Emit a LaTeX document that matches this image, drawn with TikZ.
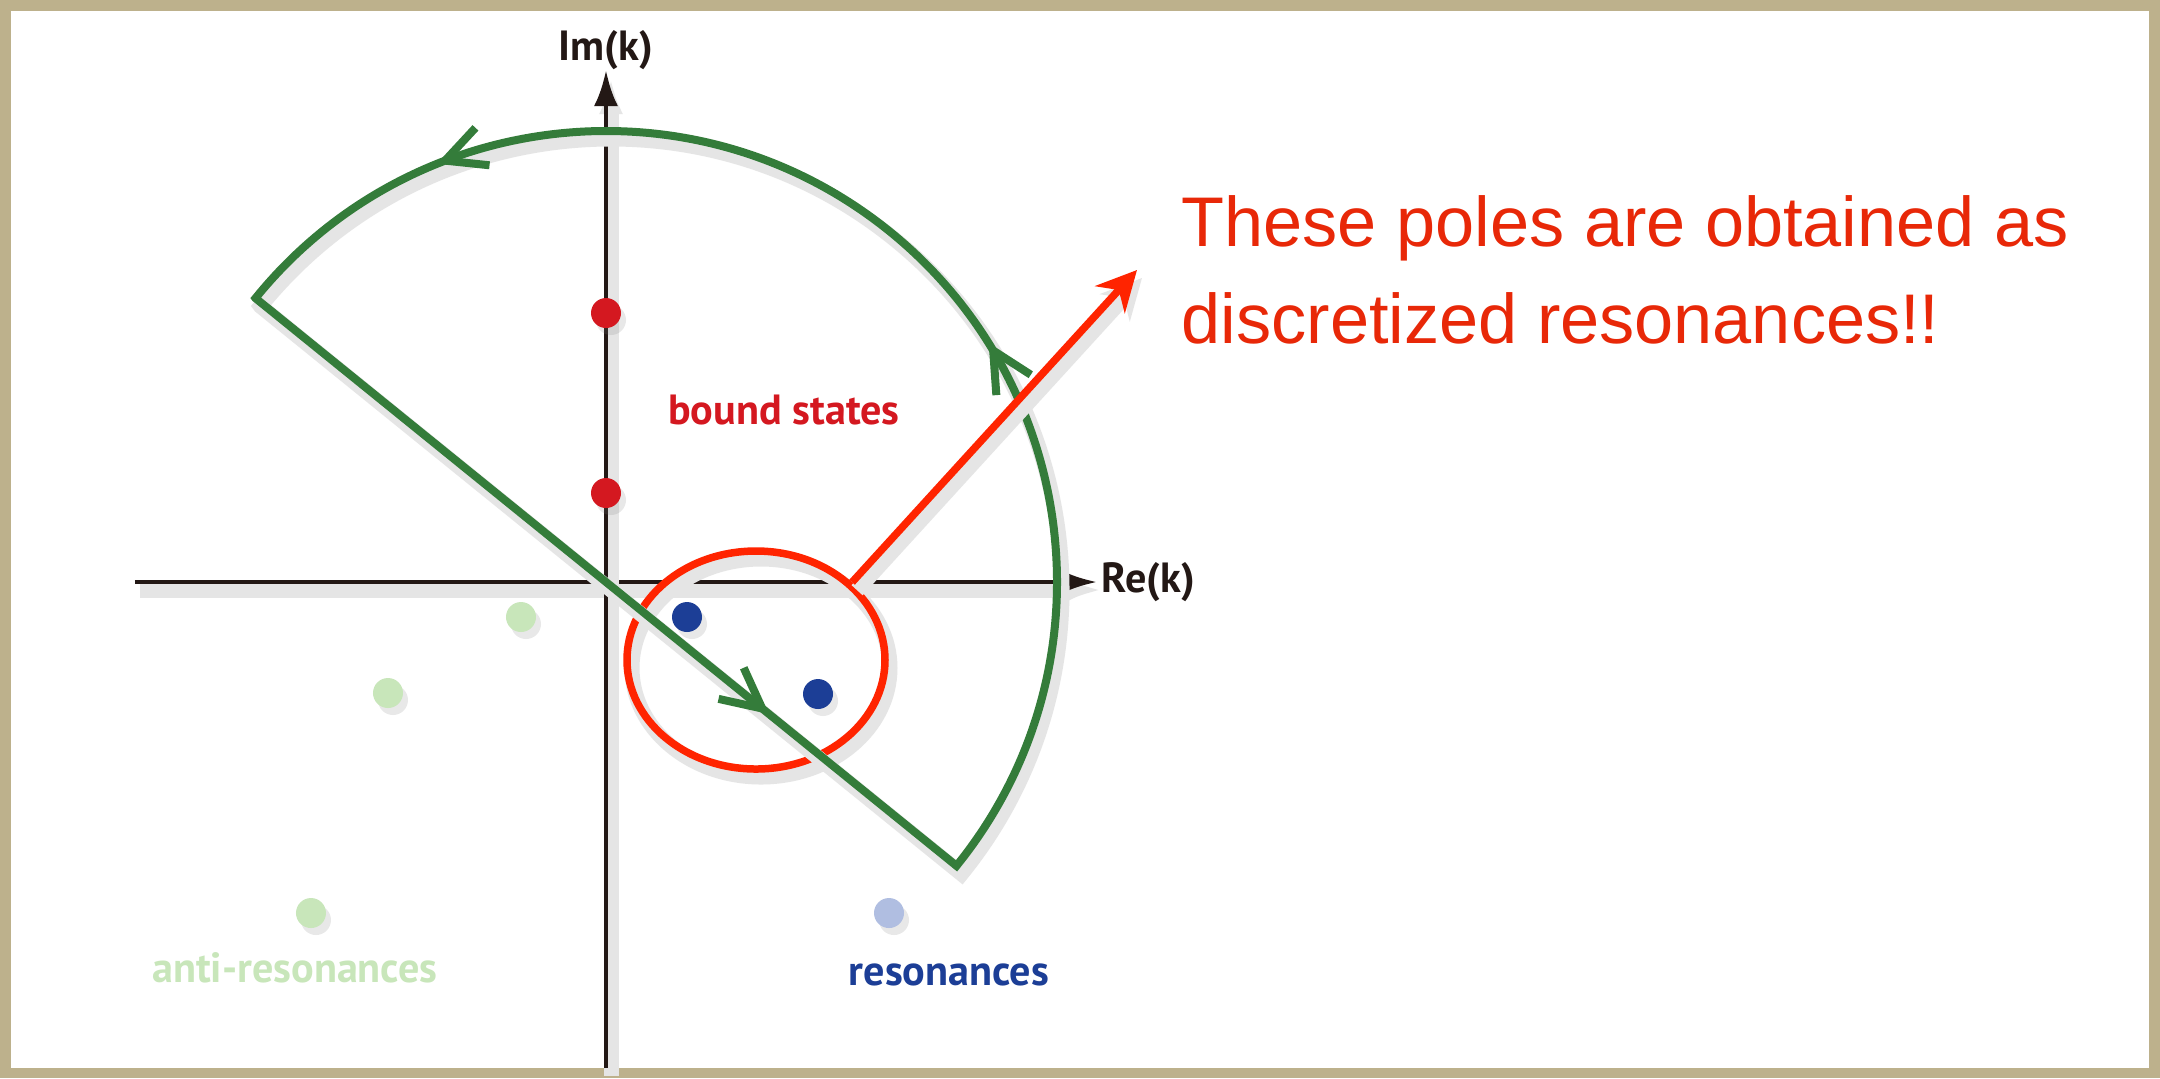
\documentclass[tikz,border=0pt]{standalone}
\usepackage{fontspec}
\setmainfont{Liberation Sans}
\newfontfamily\tagfont{PT Sans}
\usetikzlibrary{arrows.meta,positioning,decorations.markings,shapes.geometric,shadows}

\definecolor{frame}{RGB}{189,177,140}
\definecolor{axisc}{RGB}{35,24,21}
\definecolor{contgreen}{RGB}{52,124,58}
\definecolor{circred}{RGB}{255,36,0}
\definecolor{notered}{RGB}{232,40,8}
\definecolor{boundred}{RGB}{212,24,32}
\definecolor{resblue}{RGB}{28,62,150}
\definecolor{resfaint}{RGB}{176,190,225}
\definecolor{antigreen}{RGB}{200,230,186}

% thick chevron on the contour
\newcommand{\chev}{\draw[contgreen, line width=0.08cm]
  (-0.38,0.2) -- (0.02,0) -- (-0.38,-0.2);}

\tikzset{
  shade/.style={preaction={draw=black!10, line width=0.15cm,
      transform canvas={shift={(0.05,-0.08)}}}},
  kaxis/.style={draw=axisc, line width=1.4pt, -{Latex[length=0.36cm,width=0.24cm]}},
  pole/.style={circle, inner sep=0pt, minimum size=0.3cm,
      drop shadow={opacity=0.18, shadow xshift=0.05cm, shadow yshift=-0.07cm}},
  tag/.style={font=\tagfont\bfseries\fontsize{12}{14}\selectfont, inner sep=0pt},
}

\begin{document}
\begin{tikzpicture}
% frame
\fill[frame] (-6.06,-4.96) rectangle (15.54,5.82);
\fill[white] (-5.95,-4.86) rectangle (15.43,5.71);

% axes
\coordinate (O) at (0,0);
\coordinate (xl) at (-4.71,0);
\coordinate (xr) at (4.91,0);
\coordinate (yb) at (0,-4.86);
\coordinate (yt) at (0,5.12);
\draw[kaxis, shade] (xl) -- (xr);
\draw[kaxis, shade] (yb) -- (yt);
\node[tag, anchor=south, text=axisc] (imk) at (yt) {Im(k)};
\node[tag, anchor=west, text=axisc, xshift=0.04cm] (rek) at (xr) {Re(k)};

% circled poles
\node[draw=circred, line width=0.075cm, ellipse, minimum width=2.58cm,
  minimum height=2.18cm, inner sep=0pt, shade] (ell) at (1.50,-0.78) {};

% contour
\coordinate (lc) at (141:4.51);
\coordinate (bc) at (-39:4.51);
\draw[draw=contgreen, line width=0.08cm, shade, postaction={decorate},
  decoration={markings,
    mark=at position 6.5cm with {\chev},
    mark=at position 14.5cm with {\chev},
    mark=at position 20.8cm with {\chev}}]
  (lc) -- (bc) arc[start angle=-39, end angle=141, radius=4.51] -- cycle;

% poles
\node[pole, fill=boundred] (b1) at (0,2.69) {};
\node[pole, fill=boundred] (b2) at (0,0.89) {};
\node[pole, fill=resblue] (r1) at (0.81,-0.35) {};
\node[pole, fill=resblue] (r2) at (2.12,-1.12) {};
\node[pole, fill=resfaint] (r3) at (2.83,-3.31) {};
\node[pole, fill=antigreen] (a1) at (-0.85,-0.35) {};
\node[pole, fill=antigreen] (a2) at (-2.18,-1.11) {};
\node[pole, fill=antigreen] (a3) at (-2.95,-3.31) {};

\node[tag, text=boundred] (bnd) at (1.78,1.72) {bound states};
\node[tag, text=antigreen] (anti) at (-3.11,-3.86) {anti-resonances};
\node[tag, text=resblue] (res) at (3.43,-3.93) {resonances};

% note
\node[anchor=west, inner sep=0pt, align=left, text=notered,
  font=\fontsize{20}{27.8}\selectfont] (note) at (5.75,3.12)
  {These poles are obtained as\\discretized resonances!!};
\coordinate (tip) at ([xshift=-0.44cm]note.west);
\draw[circred, line width=0.075cm, shade,
  -{Stealth[length=0.4cm,width=0.4cm]}] (ell.39) -- (tip);
\end{tikzpicture}
\end{document}
